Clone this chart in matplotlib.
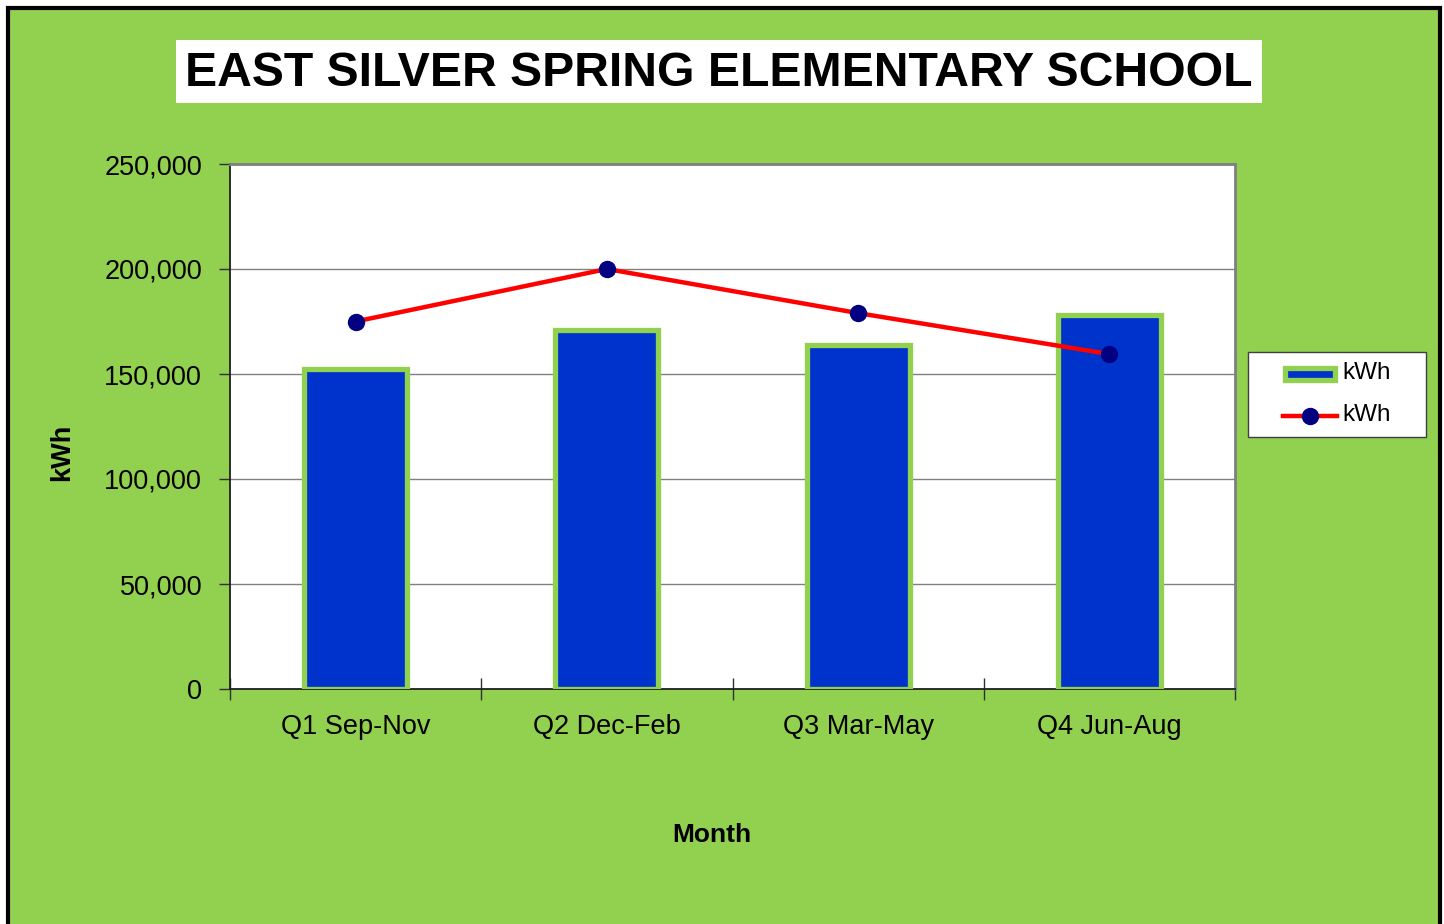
import numpy as np
import matplotlib.pyplot as plt
import matplotlib.patches as mpatches
from matplotlib.lines import Line2D
from matplotlib.ticker import FuncFormatter

# quarterly usage
quarters = ['Q1 Sep-Nov', 'Q2 Dec-Feb', 'Q3 Mar-May', 'Q4 Jun-Aug']
kwh_bars = [152500, 171000, 164000, 178000]
kwh_line = [175000, 200000, 179000, 159500]
series_names = ['kWh', 'kWh']

green = '#92D050'
blue = '#0033CC'
navy = '#000080'

W, H = 1444, 924


def fx(px):
    return px / W


def fy(py):
    return 1 - py / H


fig = plt.figure(figsize=(W / 100, H / 100), dpi=100)
fig.patch.set_facecolor('white')

# green panel with black frame (bottom edge runs off the picture)
frame = mpatches.Rectangle((fx(8), -0.05), fx(1440 - 8), 1 - 8 / H + 0.05,
                           transform=fig.transFigure, facecolor=green,
                           edgecolor='black', linewidth=3, zorder=-10)
fig.patches.append(frame)

ax = fig.add_axes([fx(230), fy(689), fx(1005), 525 / H])
ax.set_facecolor('white')

x = np.arange(len(quarters))
ax.bar(x, kwh_bars, width=0.41, color=blue, edgecolor=green, linewidth=3.8,
       zorder=3)
ax.plot(x, kwh_line, color='red', linewidth=3.2, marker='o', markersize=11.5,
        markerfacecolor=navy, markeredgecolor=navy, zorder=4)

ax.set_xlim(-0.5, len(quarters) - 0.5)
ax.set_ylim(0, 250000)
ax.set_yticks(np.arange(0, 250001, 50000))
ax.yaxis.set_major_formatter(FuncFormatter(lambda v, p: f'{int(v):,}'))
ax.yaxis.grid(True, color='#808080', linewidth=1, zorder=1)
ax.set_axisbelow(True)

ax.set_xticks(x)
ax.set_xticklabels(quarters, fontsize=19.5, family='Liberation Sans')
ax.set_xticks(np.arange(-0.5, len(quarters)), minor=True)
ax.tick_params(axis='x', which='major', length=0, pad=18)
ax.tick_params(axis='x', which='minor', length=16, width=1, color='#303030',
               direction='inout')
for lbl in ax.get_yticklabels():
    lbl.set_fontsize(19.5)
    lbl.set_family('Liberation Sans')
ax.tick_params(axis='y', length=8, width=1, color='#303030', pad=12)

for side in ['top', 'right']:
    ax.spines[side].set_color('#808080')
    ax.spines[side].set_linewidth(2)
ax.spines['left'].set_color('#202020')
ax.spines['bottom'].set_color('#202020')
ax.spines['left'].set_linewidth(1.3)
ax.spines['bottom'].set_linewidth(1.3)

fig.text(fx(62), fy(452), 'kWh', fontsize=19.5, fontweight='bold',
         family='Liberation Sans', rotation=90, ha='center', va='center')
fig.text(fx(712), fy(835), 'Month', fontsize=19, fontweight='bold',
         family='Liberation Sans', ha='center', va='center')

# title in a white box
fig.patches.append(mpatches.Rectangle((fx(176), fy(103)), fx(1262 - 176), (103 - 40) / H,
                                      transform=fig.transFigure, facecolor='white',
                                      edgecolor='none', zorder=1))
fig.text(fx(719), fy(73), 'EAST SILVER SPRING ELEMENTARY SCHOOL',
         fontsize=34.7, fontweight='bold', family='Liberation Sans',
         ha='center', va='center', zorder=2)

# legend drawn by hand to get the Excel-like box
fig.patches.append(mpatches.Rectangle((fx(1248), fy(437)), fx(1426 - 1248), (437 - 352) / H,
                                      transform=fig.transFigure, facecolor='white',
                                      edgecolor='#404040', linewidth=1, zorder=1))
fig.patches.append(mpatches.Rectangle((fx(1285), fy(380)), fx(1335 - 1285), (380 - 368) / H,
                                      transform=fig.transFigure, facecolor=blue,
                                      edgecolor=green, linewidth=3.8, zorder=2))
fig.lines.append(Line2D([fx(1283), fx(1337)], [fy(416), fy(416)],
                        transform=fig.transFigure, color='red', linewidth=3.2,
                        zorder=2))
fig.lines.append(Line2D([fx(1310)], [fy(416)], transform=fig.transFigure,
                        marker='o', markersize=11.5, markerfacecolor=navy,
                        markeredgecolor=navy, linestyle='none', zorder=3))
for name, yy in zip(series_names, [373, 415]):
    fig.text(fx(1342), fy(yy), name, fontsize=17.5, family='Liberation Sans',
             ha='left', va='center', zorder=3)

fig.savefig('out.png', dpi=100)
